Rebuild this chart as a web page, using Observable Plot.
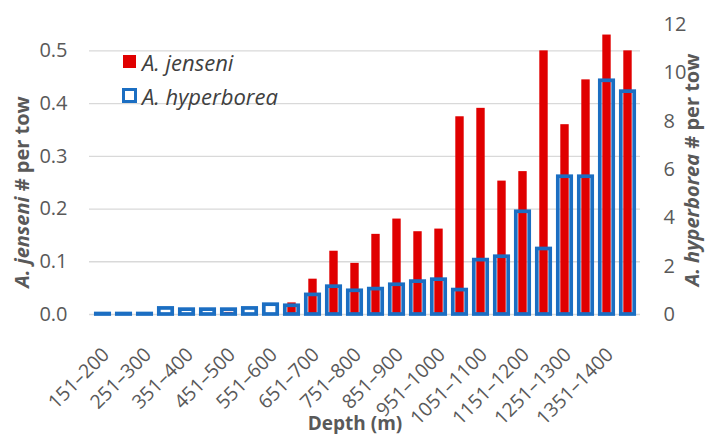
<!DOCTYPE html>
<html><head><meta charset="utf-8">
<script src="https://cdn.jsdelivr.net/npm/d3@7"></script>
<script src="https://cdn.jsdelivr.net/npm/@observablehq/plot@0.6"></script>
<style>
body{margin:0;background:#fff;font-family:"Open Sans",sans-serif;}
#wrap{position:relative;width:705px;height:434px;overflow:hidden;background:#fff;}
.ov{position:absolute;white-space:nowrap;line-height:1;}
.title{color:#595959;font-weight:bold;font-size:20px;transform:translate(-50%,-50%);}
.rot{transform:translate(-50%,-50%) rotate(-90deg);}
.leg{color:#404040;font-style:italic;font-size:22px;transform:translateY(-50%);}
</style></head><body>
<div id="wrap"></div>
<script>
const depths = ["151–200","201–250","251–300","301–350","351–400","401–450","451–500","501–550","551–600","601–650","651–700","701–750","751–800","801–850","851–900","901–950","951–1000","1001–1050","1051–1100","1101–1150","1151–1200","1201–1250","1251–1300","1301–1350","1351–1400","1401–1450"];
const jenseni = [0,0,0,0,0,0,0.004,0,0,0.022,0.067,0.12,0.097,0.152,0.181,0.157,0.162,0.375,0.391,0.253,0.271,0.5,0.36,0.445,0.53,0.5];
const hyperborea = [0,0,0,0.23,0.18,0.18,0.18,0.23,0.385,0.34,0.79,1.13,0.96,1.03,1.21,1.34,1.42,0.99,2.23,2.37,4.23,2.69,5.68,5.68,9.65,9.2];
const leftTicks = [0,0.1,0.2,0.3,0.4,0.5];
const rightTicks = [0,2,4,6,8,10,12];
const shownDepths = depths.filter((d,i)=>i%2===0);
const leftMax = 0.55, rightMax = 12;
const k = leftMax/rightMax;
const data = depths.map((d,i)=>({depth:d, jen:jenseni[i], hyp:hyperborea[i]}));
const RED = "#e00000", BLUE = "#1b6ec2";

const chart = Plot.plot({
  width:705, height:434, marginLeft:89, marginRight:65, marginTop:24, marginBottom:120,
  style:{fontFamily:"Open Sans", fontSize:"17px", color:"#595959", background:"#fff", overflow:"visible"},
  x:{domain:depths, padding:0, label:null},
  y:{domain:[0,leftMax], label:null},
  marks:[
    Plot.ruleY(leftTicks, {stroke:"#d9d9d9", strokeWidth:1.3}),
    Plot.barY(data, {x:"depth", y:"jen", fill:RED, insetLeft:6.3, insetRight:6.3}),
    Plot.barY(data, {x:"depth", y:d=>d.hyp*k, fill:"none", stroke:BLUE, strokeWidth:3.7, insetLeft:3.8, insetRight:3.8, insetTop:-0.5}),
    Plot.axisY(leftTicks, {anchor:"left", tickSize:0, tickPadding:22, tickFormat:d3.format(".1f"), label:null, fontSize:20, fill:"#595959"}),
    Plot.axisY(rightTicks.map(v=>v*k), {anchor:"right", tickSize:0, tickPadding:23, tickFormat:v=>String(Math.round(v/k)), label:null, fontSize:20, fill:"#595959"}),
    Plot.axisX(shownDepths, {tickSize:0, tickRotate:-45, tickPadding:37, dx:3, label:null, fontSize:19.5, fill:"#595959"})
  ]
});
const wrap = document.getElementById("wrap");
wrap.appendChild(chart);

function ov(html, cls, left, top, extra){
  const d = document.createElement("div");
  d.className = "ov " + cls;
  d.innerHTML = html;
  d.style.left = left + "px"; d.style.top = top + "px";
  if (extra) Object.assign(d.style, extra);
  wrap.appendChild(d);
}
ov("<i>A. jenseni</i> # per tow", "title rot", 22, 192);
ov("<i>A. hyperborea</i> # per tow", "title rot", 692, 170);
ov("Depth (m)", "title", 355, 423, {fontSize:"19px"});
ov("", "", 123, 55, {width:"13px", height:"13px", background:RED});
ov("A. jenseni", "leg", 142, 62);
ov("", "", 122, 88, {width:"15px", height:"15px", border:"3.7px solid "+BLUE, boxSizing:"border-box"});
ov("A. hyperborea", "leg", 142, 96);
</script>
</body></html>
